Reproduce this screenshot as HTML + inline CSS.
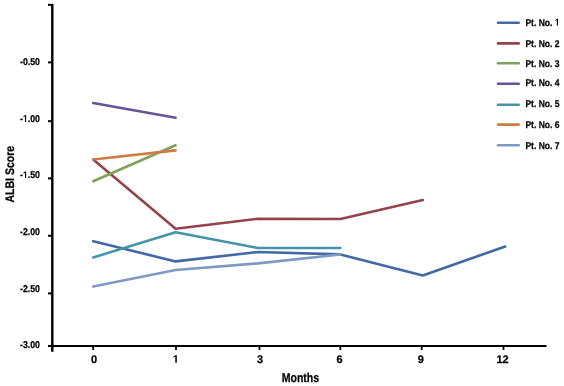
<!DOCTYPE html>
<html><head><meta charset="utf-8"><style>
html,body{margin:0;padding:0;background:#fff;width:564px;height:386px;overflow:hidden}
svg{display:block;filter:blur(0.35px)}
text{text-rendering:geometricPrecision;font-family:"Liberation Sans",sans-serif;font-weight:bold;fill:#000;stroke:#000;stroke-width:0.25px}
.g1{fill:#000;stroke:#000;stroke-width:0.25px}
</style></head><body>
<svg width="564" height="386" viewBox="0 0 564 386">
<defs><path id="one" d="M478 0V1170L140 959V1180L493 1409H759V0Z"/></defs>
<rect width="564" height="386" fill="#fff"/>
<g stroke="#000" fill="none">
<line x1="52.3" y1="3.9" x2="52.3" y2="351.8" stroke-width="2.4"/>
<line x1="48" y1="345.9" x2="546.5" y2="345.9" stroke-width="2"/>
<line x1="48" y1="4.8" x2="52" y2="4.8" stroke-width="2"/>
<line x1="48" y1="62.4" x2="52" y2="62.4" stroke-width="2"/>
<line x1="48" y1="121.2" x2="52" y2="121.2" stroke-width="2"/>
<line x1="48" y1="178.4" x2="52" y2="178.4" stroke-width="2"/>
<line x1="48" y1="235.75" x2="52" y2="235.75" stroke-width="2"/>
<line x1="48" y1="293.4" x2="52" y2="293.4" stroke-width="2"/>
<line x1="93.2" y1="346" x2="93.2" y2="350" stroke-width="1.8"/>
<line x1="176" y1="346" x2="176" y2="350" stroke-width="1.8"/>
<line x1="259.5" y1="346" x2="259.5" y2="350" stroke-width="1.8"/>
<line x1="340.3" y1="346" x2="340.3" y2="350" stroke-width="1.8"/>
<line x1="421.7" y1="346" x2="421.7" y2="350" stroke-width="1.8"/>
<line x1="503.5" y1="346" x2="503.5" y2="350" stroke-width="1.8"/>
</g>
<text x="20" y="64.8" font-size="9.9" textLength="19.9" lengthAdjust="spacingAndGlyphs">-0.50</text>
<text x="20" y="121.9" font-size="9.9" textLength="19.9" lengthAdjust="spacingAndGlyphs">- .00</text>
<use href="#one" class="g1" vector-effect="non-scaling-stroke" transform="translate(22.907,121.9) scale(0.004263,-0.004834)"/>
<text x="20" y="178.3" font-size="9.9" textLength="19.9" lengthAdjust="spacingAndGlyphs">- .50</text>
<use href="#one" class="g1" vector-effect="non-scaling-stroke" transform="translate(22.907,178.3) scale(0.004263,-0.004834)"/>
<text x="20" y="234.7" font-size="9.9" textLength="19.9" lengthAdjust="spacingAndGlyphs">-2.00</text>
<text x="20" y="291.5" font-size="9.9" textLength="19.9" lengthAdjust="spacingAndGlyphs">-2.50</text>
<text x="20" y="347.8" font-size="9.9" textLength="19.9" lengthAdjust="spacingAndGlyphs">-3.00</text>
<text x="94" y="362.8" font-size="11" text-anchor="middle">0</text>
<use href="#one" class="g1" vector-effect="non-scaling-stroke" transform="translate(172.741,362.8) scale(0.005371,-0.005371)"/>
<text x="260.1" y="362.8" font-size="11" text-anchor="middle">3</text>
<text x="339.6" y="362.8" font-size="11" text-anchor="middle">6</text>
<text x="420.7" y="362.8" font-size="11" text-anchor="middle">9</text>
<text x="502.5" y="362.8" font-size="11" text-anchor="middle">12</text>
<text x="281.7" y="381.7" font-size="12.8" textLength="37.4" lengthAdjust="spacingAndGlyphs">Months</text>
<text transform="translate(14,202.6) rotate(-90)" x="0" y="0" font-size="12.4" textLength="56.8" lengthAdjust="spacingAndGlyphs">ALBI Score</text>
<g fill="none" stroke-width="2.6" stroke-linecap="round" stroke-linejoin="round">
<polyline stroke="#4269A4" points="93.2,241.3 175.6,261.4 258,252 340.4,254.4 422.8,275.4 505.2,246.5"/>
<polyline stroke="#93434A" points="93.2,159.5 175.6,228.8 258,218.7 340.4,219 422.8,200"/>
<polyline stroke="#80A258" points="93.2,181.2 175.6,145.3"/>
<polyline stroke="#655499" points="93.2,103 175.6,117.8"/>
<polyline stroke="#4393AA" points="93.2,257.4 175.6,232.3 258,248 340.4,248"/>
<polyline stroke="#CC7D46" points="93.2,159.5 175.6,150.4"/>
<polyline stroke="#7E99C4" points="93.2,286.6 175.6,270 258,263.4 340.4,254.5"/>
</g>
<g fill="none" stroke-width="2.6" stroke-linecap="round">
<line x1="498" y1="22.7" x2="518.7" y2="22.7" stroke="#4269A4"/>
<line x1="498" y1="43.4" x2="518.7" y2="43.4" stroke="#93434A"/>
<line x1="498" y1="63.2" x2="518.7" y2="63.2" stroke="#80A258"/>
<line x1="498" y1="83.8" x2="518.7" y2="83.8" stroke="#655499"/>
<line x1="498" y1="104.7" x2="518.7" y2="104.7" stroke="#4393AA"/>
<line x1="498" y1="124.6" x2="518.7" y2="124.6" stroke="#CC7D46"/>
<line x1="498" y1="145.3" x2="518.7" y2="145.3" stroke="#7E99C4"/>
</g>
<text x="525.4" y="25.6" font-size="9.8" textLength="34.2" lengthAdjust="spacingAndGlyphs">Pt. No.  </text>
<use href="#one" class="g1" vector-effect="non-scaling-stroke" transform="translate(554.845,25.6) scale(0.004174,-0.004785)"/>
<text x="525.4" y="46.5" font-size="9.8" textLength="34.2" lengthAdjust="spacingAndGlyphs">Pt. No. 2</text>
<text x="525.4" y="66.7" font-size="9.8" textLength="34.2" lengthAdjust="spacingAndGlyphs">Pt. No. 3</text>
<text x="525.4" y="85.6" font-size="9.8" textLength="34.2" lengthAdjust="spacingAndGlyphs">Pt. No. 4</text>
<text x="525.4" y="107.3" font-size="9.8" textLength="34.2" lengthAdjust="spacingAndGlyphs">Pt. No. 5</text>
<text x="525.4" y="128.4" font-size="9.8" textLength="34.2" lengthAdjust="spacingAndGlyphs">Pt. No. 6</text>
<text x="525.4" y="148.5" font-size="9.8" textLength="34.2" lengthAdjust="spacingAndGlyphs">Pt. No. 7</text>
</svg>
</body></html>
